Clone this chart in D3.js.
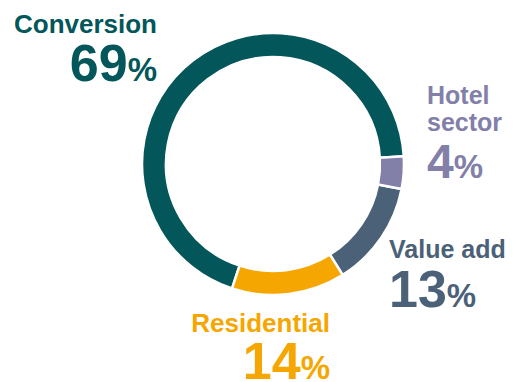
<!DOCTYPE html>
<html>
<head>
<meta charset="utf-8">
<script src="https://cdn.jsdelivr.net/npm/d3@7"></script>
<style>
  html, body { margin: 0; padding: 0; background: #fff; }
  svg text { font-family: "Liberation Sans", Arial, sans-serif; font-weight: bold; }
</style>
</head>
<body>
<svg id="chart" width="517" height="382"></svg>
<script>
// Share of investment by strategy (%)
const categories = ["Conversion", "Residential", "Value add", "Hotel sector"];
const shares = [69, 14, 13, 4];
const colors = ["#03565A", "#F6A600", "#4A6178", "#8280A9"];

// Label placement: anchor point, alignment and font sizes for each category
const labelLayout = {
  "Conversion":   { x: 157, lines: ["Conversion"],       lineY: [33],       valueY: 81,  anchor: "end",   nameSize: 26, numSize: 52 },
  "Residential":  { x: 330, lines: ["Residential"],      lineY: [332],      valueY: 379, anchor: "end",   nameSize: 26, numSize: 52 },
  "Value add":    { x: 389, lines: ["Value add"],        lineY: [258],      valueY: 307, anchor: "start", nameSize: 25, numSize: 52 },
  "Hotel sector": { x: 427, lines: ["Hotel", "sector"],  lineY: [104, 131], valueY: 178, anchor: "start", nameSize: 25, numSize: 48 }
};

const svg = d3.select("#chart");
const cx = 273, cy = 164;
const outerR = 131, innerR = 107;

// Slices run counter-clockwise, Conversion first, ending just above 3 o'clock
const start = 446.6 * Math.PI / 180;
const pie = d3.pie()
  .sort(null)
  .value(d => d.value)
  .startAngle(start)
  .endAngle(start - 2 * Math.PI);

const data = categories.map((c, i) => ({ name: c, value: shares[i], color: colors[i] }));
const arc = d3.arc().innerRadius(innerR).outerRadius(outerR);

svg.append("g")
  .attr("transform", `translate(${cx},${cy})`)
  .selectAll("path")
  .data(pie(data))
  .join("path")
  .attr("d", arc)
  .attr("fill", d => d.data.color)
  .attr("stroke", "#fff")
  .attr("stroke-width", 2.5);

// Category names and percentage values
data.forEach(d => {
  const L = labelLayout[d.name];
  const g = svg.append("g").attr("fill", d.color).attr("text-anchor", L.anchor);
  L.lines.forEach((line, i) => {
    g.append("text")
      .attr("x", L.x)
      .attr("y", L.lineY[i])
      .attr("font-size", L.nameSize)
      .text(line);
  });
  const t = g.append("text").attr("x", L.x).attr("y", L.valueY);
  t.append("tspan").attr("font-size", L.numSize).text(d.value);
  t.append("tspan").attr("font-size", 33).text("%");
});
</script>
</body>
</html>
